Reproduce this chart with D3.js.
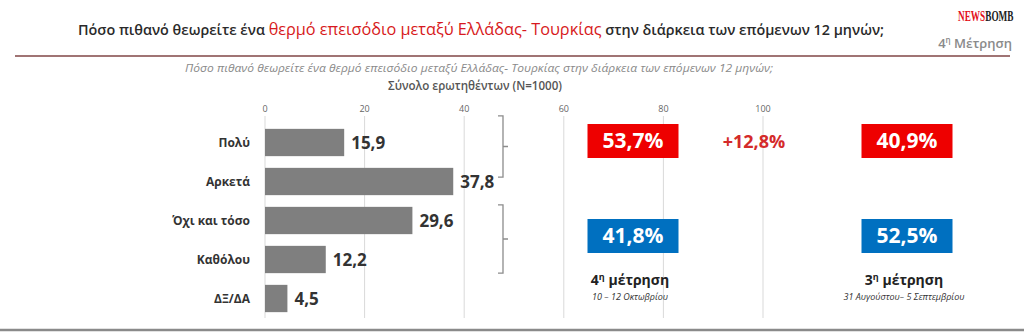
<!DOCTYPE html>
<meta charset="utf-8">
<script src="https://d3js.org/d3.v7.min.js"></script>
<style>
  body { margin: 0; background: #fff; }
  text { font-family: "Open Sans", sans-serif; }
</style>
<div id="vis"></div>
<script>

// answers and share of respondents (%)
var categories = ["Πολύ", "Αρκετά", "Όχι και τόσο", "Καθόλου", "ΔΞ/ΔΑ"]
var values = [15.9, 37.8, 29.6, 12.2, 4.5]
var ticks = [0, 20, 40, 60, 80, 100]

// grouped totals: likely (Πολύ + Αρκετά) and unlikely (Όχι και τόσο + Καθόλου)
var groups = [["Πολύ", "Αρκετά"], ["Όχι και τόσο", "Καθόλου"]]
var waves = ["4", "3"]
var waveDates = ["10 – 12 Οκτωβρίου", "31 Αυγούστου– 5 Σεπτεμβρίου"]
var likely = [53.7, 40.9]
var unlikely = [41.8, 52.5]

var width = 1024
    height = 332

var gr = d3.formatLocale({decimal: ",", thousands: ".", grouping: [3], currency: ["", "€"]})
var fmt = gr.format(".1f")

var svg = d3.select("#vis")
  .append("svg")
    .attr("width", width)
    .attr("height", height)

// ---- header
var title = svg.append("text")
    .attr("x", 78)
    .attr("y", 35)
    .attr("textLength", 806)
    .attr("lengthAdjust", "spacingAndGlyphs")
    .style("font-size", "15px")
    .style("font-weight", "600")
    .style("fill", "#2a2a2a")
title.append("tspan").text("Πόσο πιθανό θεωρείτε ένα ")
title.append("tspan").style("fill", "#d71920").style("font-size", "17px").style("font-weight", "normal")
    .text("θερμό επεισόδιο μεταξύ Ελλάδας- Τουρκίας")
title.append("tspan").text(" στην διάρκεια των επόμενων 12 μηνών;")

svg.append("line")
    .attr("x1", 15).attr("x2", 1010)
    .attr("y1", 56).attr("y2", 56)
    .attr("stroke", "#a07474")
    .attr("stroke-width", 2)

// logo, squeezed horizontally
var logo = svg.append("text")
    .attr("transform", "translate(958,21) scale(0.66,1)")
    .style("font-family", "'Liberation Serif', serif")
    .style("font-weight", "bold")
    .style("font-size", "14px")
logo.append("tspan").style("fill", "#e3101a").text("NEWS")
logo.append("tspan").style("fill", "#222").text("BOMB")

var meas = svg.append("text")
    .attr("x", 1012)
    .attr("y", 48)
    .attr("text-anchor", "end")
    .style("font-size", "13px")
    .style("font-weight", "600")
    .style("fill", "#8a8a8a")
meas.append("tspan").text("4")
meas.append("tspan").attr("dy", -5).style("font-size", "8px").text("η")
meas.append("tspan").attr("dy", 5).text(" Μέτρηση")

// ---- chart titles
svg.append("text")
    .attr("x", 479)
    .attr("y", 72)
    .attr("text-anchor", "middle")
    .attr("textLength", 588)
    .attr("lengthAdjust", "spacingAndGlyphs")
    .style("font-size", "11px")
    .style("font-style", "italic")
    .style("fill", "#8a8a8a")
    .text("Πόσο πιθανό θεωρείτε ένα θερμό επεισόδιο μεταξύ Ελλάδας- Τουρκίας στην διάρκεια των επόμενων 12 μηνών;")

svg.append("text")
    .attr("x", 475)
    .attr("y", 90)
    .attr("text-anchor", "middle")
    .attr("textLength", 174)
    .attr("lengthAdjust", "spacingAndGlyphs")
    .style("font-size", "12px")
    .style("font-weight", "600")
    .style("fill", "#555")
    .text("Σύνολο ερωτηθέντων (N=1000)")

// ---- bars
var x = d3.scaleLinear()
    .domain([0, 100])
    .range([265, 763])

var y = d3.scaleBand()
    .domain(categories)
    .range([123, 318])
    .paddingInner(0.3)
    .paddingOuter(0.15)

svg.selectAll(".grid")
  .data(ticks)
  .enter()
  .append("line")
    .attr("class", "grid")
    .attr("x1", d => x(d)).attr("x2", d => x(d))
    .attr("y1", 116).attr("y2", 318)
    .attr("stroke", "#d9d9d9")

svg.selectAll(".tick")
  .data(ticks)
  .enter()
  .append("text")
    .attr("class", "tick")
    .attr("x", d => x(d))
    .attr("y", 112)
    .attr("text-anchor", "middle")
    .style("font-size", "9px")
    .style("fill", "#666")
    .text(d => d)

svg.selectAll(".bar")
  .data(values)
  .enter()
  .append("rect")
    .attr("class", "bar")
    .attr("x", x(0))
    .attr("y", (d, i) => y(categories[i]))
    .attr("width", d => x(d) - x(0))
    .attr("height", y.bandwidth())
    .attr("fill", "#7f7f7f")

svg.selectAll(".val")
  .data(values)
  .enter()
  .append("text")
    .attr("class", "val")
    .attr("x", d => x(d) + 7)
    .attr("y", (d, i) => y(categories[i]) + y.bandwidth() / 2 + 6)
    .style("font-size", "17px")
    .style("font-weight", "bold")
    .style("fill", "#333")
    .text(d => fmt(d))

svg.selectAll(".cat")
  .data(categories)
  .enter()
  .append("text")
    .attr("class", "cat")
    .attr("x", 250)
    .attr("y", d => y(d) + y.bandwidth() / 2 + 4)
    .attr("text-anchor", "end")
    .style("font-size", "12px")
    .style("font-weight", "bold")
    .style("fill", "#333")
    .text(d => d)

// brackets joining each group of answers
var shift = [-13, -2]
groups.forEach(function(g, i) {
  var y0 = y(g[0]) + shift[i]
  var y1 = y(g[g.length - 1]) + y.bandwidth() + shift[i] + (i == 0 ? -5 : 2)
  var bx = 503
  svg.append("path")
      .attr("d", "M" + (bx - 5) + "," + y0 + "H" + bx + "V" + y1 + "H" + (bx - 5)
        + "M" + bx + "," + ((y0 + y1) / 2) + "h5")
      .attr("fill", "none")
      .attr("stroke", "#8c8c8c")
      .attr("stroke-width", 1.3)
})

// ---- comparison of measurement waves
var wx = d3.scalePoint()
    .domain(waves)
    .range([633, 907])

var boxW = 91, boxH = 34

function box(vals, top, col) {
  svg.selectAll(null)
    .data(vals)
    .enter()
    .append("rect")
      .attr("x", (d, i) => wx(waves[i]) - boxW / 2)
      .attr("y", top)
      .attr("width", boxW)
      .attr("height", boxH)
      .attr("fill", col)
  svg.selectAll(null)
    .data(vals)
    .enter()
    .append("text")
      .attr("x", (d, i) => wx(waves[i]))
      .attr("y", top + boxH / 2 + 7)
      .attr("text-anchor", "middle")
      .style("font-size", "21px")
      .style("font-weight", "bold")
      .style("fill", "#fff")
      .text(d => fmt(d) + "%")
}
box(likely, 124, "#ee0000")
box(unlikely, 219, "#0070c0")

svg.append("text")
    .attr("x", 754)
    .attr("y", 148)
    .attr("text-anchor", "middle")
    .style("font-size", "18px")
    .style("font-weight", "bold")
    .style("fill", "#d42a2a")
    .text("+" + fmt(likely[0] - likely[1]) + "%")

waves.forEach(function(w, i) {
  var t = svg.append("text")
      .attr("x", wx(w) - 3)
      .attr("y", 285)
      .attr("text-anchor", "middle")
      .style("font-size", "14px")
      .style("font-weight", "bold")
      .style("fill", "#222")
  t.append("tspan").text(w)
  t.append("tspan").attr("dy", -5).style("font-size", "9px").text("η")
  t.append("tspan").attr("dy", 5).text(" μέτρηση")

  svg.append("text")
      .attr("x", wx(w) - 3)
      .attr("y", 300)
      .attr("text-anchor", "middle")
      .style("font-size", "9px")
      .style("font-style", "italic")
      .style("fill", "#333")
      .text(waveDates[i])
})

svg.append("line")
    .attr("x1", 0).attr("x2", width)
    .attr("y1", 330).attr("y2", 330)
    .attr("stroke", "#8a8a8a")
    .attr("stroke-width", 2.5)

</script>
